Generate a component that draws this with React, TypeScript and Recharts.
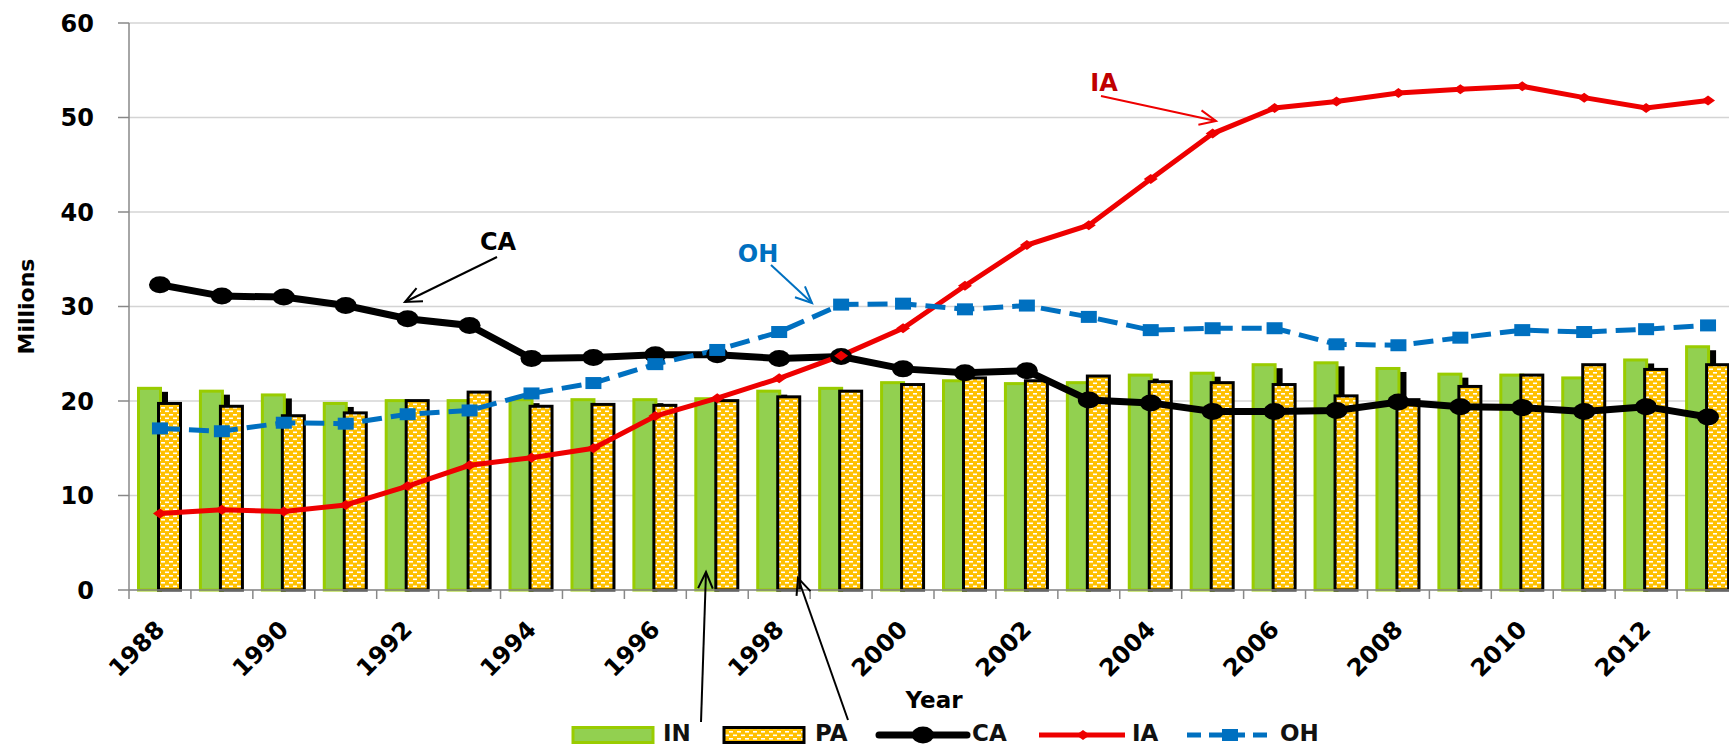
import { Bar, CartesianGrid, ComposedChart, Legend, Line, XAxis, YAxis } from 'recharts';

const years = [
  '1988', '1989', '1990', '1991', '1992', '1993', '1994', '1995', '1996', '1997', '1998', '1999', '2000',
  '2001', '2002', '2003', '2004', '2005', '2006', '2007', '2008', '2009', '2010', '2011', '2012', '2013',
];
const inValues = [
  21.5, 21.2, 20.8, 19.9, 20.2, 20.2, 20.3, 20.3, 20.3, 20.4, 21.2, 21.5, 22.1,
  22.3, 22.0, 22.1, 22.9, 23.1, 24.0, 24.2, 23.6, 23.0, 22.9, 22.6, 24.5, 25.9,
];
const paValues = [
  19.9, 19.6, 18.6, 18.9, 20.2, 21.1, 19.6, 19.8, 19.7, 20.2, 20.6, 21.2, 21.9,
  22.6, 22.3, 22.8, 22.2, 22.1, 21.9, 20.7, 20.3, 21.7, 22.9, 24.0, 23.5, 24.0,
];
const caValues = [
  32.3, 31.1, 31.0, 30.1, 28.7, 28.0, 24.5, 24.6, 24.9, 24.9, 24.5, 24.7, 23.4,
  23.0, 23.2, 20.1, 19.8, 18.9, 18.9, 19.0, 19.9, 19.4, 19.3, 18.9, 19.4, 18.3,
];
const iaValues = [
  8.1, 8.5, 8.3, 9.0, 11.0, 13.2, 14.0, 15.0, 18.4, 20.3, 22.4, 24.8, 27.7,
  32.2, 36.5, 38.6, 43.5, 48.3, 51.0, 51.7, 52.6, 53.0, 53.3, 52.1, 51.0, 51.8,
];
const ohValues = [
  17.1, 16.8, 17.7, 17.6, 18.6, 19.0, 20.8, 21.9, 23.9, 25.4, 27.3, 30.2, 30.3,
  29.7, 30.1, 28.9, 27.5, 27.7, 27.7, 26.0, 25.9, 26.7, 27.5, 27.3, 27.6, 28.0,
];
const yTicks = [0, 10, 20, 30, 40, 50, 60];

const data = years.map((year, i) => ({
  year,
  IN: inValues[i],
  PA: paValues[i],
  CA: caValues[i],
  IA: iaValues[i],
  OH: ohValues[i],
}));

const CHART_W = 1760;
const CHART_H = 747;
const MARGIN = { top: 23, right: 21, left: 0, bottom: 0 };
const Y_AXIS_W = 129;
const BAND = (CHART_W - MARGIN.left - MARGIN.right - Y_AXIS_W) / years.length;
const FONT = 'DejaVu Sans';

const GREEN = '#92D050';
const GREEN_EDGE = '#99CC00';
const RED = '#EE0000';
const BLUE = '#0070C0';

const YearTick = (props: any) => {
  const { x, y, payload, index } = props;
  const bx = x + 6;
  const by = y + 41;
  return (
    <g>
      <line x1={x - BAND / 2} x2={x - BAND / 2} y1={y} y2={y + 9} stroke="#888" strokeWidth={1.5} />
      {index % 2 === 0 && (
        <text
          x={bx}
          y={by}
          transform={`rotate(-45 ${bx} ${by})`}
          textAnchor="end"
          fontFamily={FONT}
          fontWeight="bold"
          fontSize={24}
          fill="#000"
        >
          {payload.value}
        </text>
      )}
    </g>
  );
};

const InBar = (props: any) => {
  const { x, y, width, height } = props;
  if (!height) return null;
  return (
    <g>
      <rect x={x + 6} y={y + 5} width={width} height={Math.max(height - 5, 0)} fill="#000" />
      <rect x={x + 1.5} y={y + 1.5} width={width - 3} height={height - 1.5} fill={GREEN} stroke={GREEN_EDGE} strokeWidth={3} />
    </g>
  );
};

const PaBar = (props: any) => {
  const { x, y, width, height } = props;
  if (!height) return null;
  return <rect x={x + 1.5} y={y + 1.5} width={width - 3} height={height - 1.5} fill="url(#paDots)" stroke="#000" strokeWidth={3} />;
};

const caDot = (p: any) => <ellipse key={`ca-${p.index}`} cx={p.cx} cy={p.cy} rx={11} ry={8.5} fill="#000" />;
const iaDot = (p: any) => (
  <polygon
    key={`ia-${p.index}`}
    points={`${p.cx - 7},${p.cy} ${p.cx},${p.cy - 5} ${p.cx + 7},${p.cy} ${p.cx},${p.cy + 5}`}
    fill={RED}
  />
);
const ohDot = (p: any) => <rect key={`oh-${p.index}`} x={p.cx - 8} y={p.cy - 6} width={16} height={12} fill={BLUE} />;

const legendText = { fontFamily: FONT, fontWeight: 'bold' as const, fontSize: 23, fill: '#111' };

// legend sits on the bottom edge, text lifted a little so it is not clipped
const LegendContent = () => (
  <svg width={1400} height={24} style={{ display: 'block', overflow: 'visible' }}>
    <rect x={573} y={4.5} width={80} height={15} fill={GREEN} stroke={GREEN_EDGE} strokeWidth={3} />
    <text x={663} y={18} {...legendText}>IN</text>
    <rect x={724} y={4.5} width={80} height={15} fill="url(#paDots)" stroke="#000" strokeWidth={3} />
    <text x={815} y={18} {...legendText}>PA</text>
    <line x1={879} x2={967} y1={12} y2={12} stroke="#000" strokeWidth={7} strokeLinecap="round" />
    <ellipse cx={923} cy={12} rx={11} ry={8.5} fill="#000" />
    <text x={972} y={18} {...legendText}>CA</text>
    <line x1={1039} x2={1125} y1={12} y2={12} stroke={RED} strokeWidth={5} />
    <polygon points="1076,12 1083,7 1090,12 1083,17" fill={RED} />
    <text x={1132} y={18} {...legendText}>IA</text>
    <line x1={1187} x2={1273} y1={12} y2={12} stroke={BLUE} strokeWidth={5} strokeDasharray="14 8" />
    <rect x={1222} y={6} width={16} height={12} fill={BLUE} />
    <text x={1280} y={18} {...legendText}>OH</text>
  </svg>
);

const Arrow = ({ x1, y1, x2, y2, color, width = 2, head = 18 }: any) => {
  const a = Math.atan2(y2 - y1, x2 - x1);
  const s = 0.42;
  const p1 = `${x2 - head * Math.cos(a - s)},${y2 - head * Math.sin(a - s)}`;
  const p2 = `${x2 - head * Math.cos(a + s)},${y2 - head * Math.sin(a + s)}`;
  return (
    <g stroke={color} strokeWidth={width} fill="none">
      <line x1={x1} y1={y1} x2={x2} y2={y2} />
      <polyline points={`${p1} ${x2},${y2} ${p2}`} />
    </g>
  );
};

const noteText = { fontFamily: FONT, fontWeight: 'bold' as const, fontSize: 24, textAnchor: 'middle' as const };

export default function App() {
  return (
    <div style={{ position: 'fixed', left: 0, top: 0, width: 1729, height: 747, overflow: 'hidden', background: '#fff' }}>
      <svg width={0} height={0} style={{ position: 'absolute' }}>
        <defs>
          <pattern id="paDots" width={8} height={7} patternUnits="userSpaceOnUse">
            <rect width={8} height={7} fill="#FFC000" />
            <rect x={1} y={1} width={4} height={1.6} fill="#fff" />
            <rect x={5} y={4.5} width={4} height={1.6} fill="#fff" />
            <rect x={-3} y={4.5} width={4} height={1.6} fill="#fff" />
          </pattern>
        </defs>
      </svg>

      <ComposedChart width={CHART_W} height={CHART_H} data={data} margin={MARGIN} barGap={-5}>
        <CartesianGrid vertical={false} stroke="#d4d4d4" strokeWidth={1.5} />
        <XAxis
          dataKey="year"
          interval={0}
          tickSize={0}
          tickMargin={0}
          tickLine={false}
          tick={<YearTick />}
          height={133}
          axisLine={{ stroke: '#888', strokeWidth: 1.5 }}
          label={{ value: 'Year', position: 'insideBottom', offset: 15, fontFamily: FONT, fontWeight: 'bold', fontSize: 23, fill: '#000' }}
        />
        <YAxis
          domain={[0, 60]}
          ticks={yTicks}
          width={Y_AXIS_W}
          tickSize={11}
          tickMargin={24}
          axisLine={{ stroke: '#888', strokeWidth: 1.5 }}
          tickLine={{ stroke: '#888', strokeWidth: 1.5 }}
          tick={{ fill: '#000', fontSize: 24, fontWeight: 'bold', fontFamily: FONT }}
          label={{
            value: 'Millions',
            angle: -90,
            position: 'insideLeft',
            offset: 26,
            fontFamily: FONT,
            fontWeight: 'bold',
            fontSize: 22,
            fill: '#000',
            style: { textAnchor: 'middle' },
          }}
        />
        <Legend
          verticalAlign="bottom"
          height={24}
          wrapperStyle={{ left: 0, bottom: 0, width: 1400, height: 24, overflow: 'visible' }}
          content={<LegendContent />}
        />
        <Bar dataKey="IN" barSize={25} shape={<InBar />} isAnimationActive={false} />
        <Bar dataKey="PA" barSize={25} shape={<PaBar />} isAnimationActive={false} />
        <Line dataKey="CA" stroke="#000" strokeWidth={7} dot={caDot} activeDot={false} isAnimationActive={false} />
        <Line dataKey="IA" stroke={RED} strokeWidth={5} dot={iaDot} activeDot={false} isAnimationActive={false} />
        <Line
          dataKey="OH"
          stroke={BLUE}
          strokeWidth={5}
          strokeDasharray="20 9"
          dot={ohDot}
          activeDot={false}
          isAnimationActive={false}
        />
      </ComposedChart>

      <svg width={1729} height={747} style={{ position: 'absolute', left: 0, top: 0, pointerEvents: 'none' }}>
        <text x={498} y={250} fill="#000" {...noteText}>CA</text>
        <Arrow x1={497} y1={257} x2={405} y2={302} color="#000" />
        <text x={758} y={262} fill={BLUE} {...noteText}>OH</text>
        <Arrow x1={771} y1={265} x2={812} y2={303} color={BLUE} />
        <text x={1104} y={91} fill="#C00000" {...noteText}>IA</text>
        <Arrow x1={1101} y1={96} x2={1216} y2={121} color={RED} />
        <Arrow x1={701} y1={722} x2={706} y2={572} color="#000" />
        <Arrow x1={848} y1={720} x2={798} y2={578} color="#000" />
      </svg>
    </div>
  );
}
